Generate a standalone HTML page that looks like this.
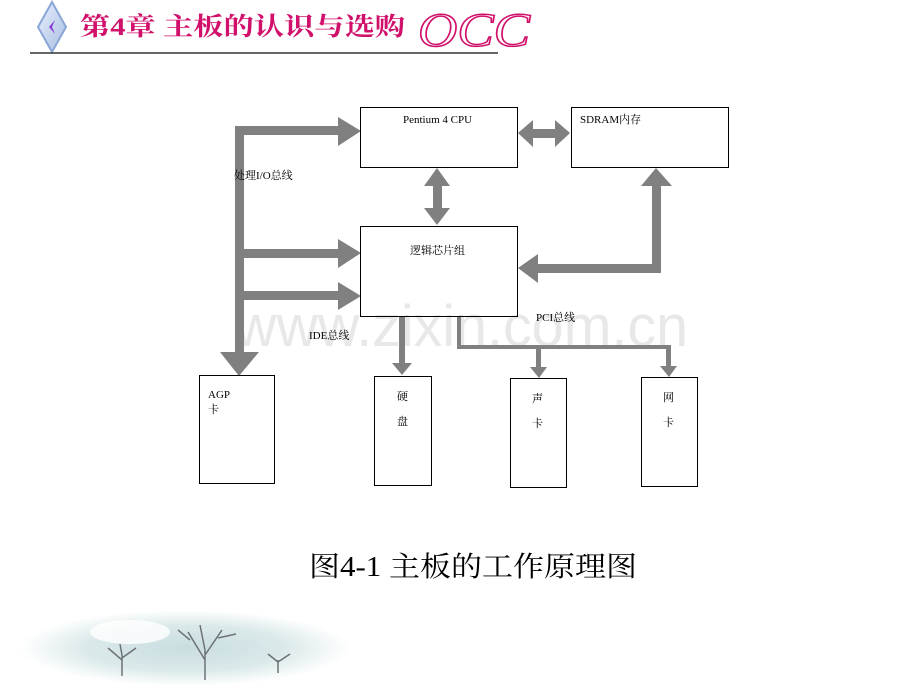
<!DOCTYPE html>
<html><head><meta charset="utf-8">
<style>
html,body{margin:0;padding:0;background:#fff;}
body{width:920px;height:690px;overflow:hidden;position:relative;font-family:"Liberation Serif","Noto Serif CJK SC",serif;}
</style></head><body>
<svg width="920" height="690" viewBox="0 0 920 690" xmlns="http://www.w3.org/2000/svg">
<defs>
<radialGradient id="fog" cx="0.5" cy="0.5" r="0.5">
<stop offset="0" stop-color="#c9dde0"/>
<stop offset="0.6" stop-color="#dbe9ea"/>
<stop offset="1" stop-color="#ffffff"/>
</radialGradient>
<linearGradient id="dia" x1="0" y1="0" x2="1" y2="1">
<stop offset="0" stop-color="#e8f0ff"/><stop offset="1" stop-color="#a9bde0"/>
</linearGradient>
</defs>
<!-- header -->
<polygon points="52,2 66,27 52,52 38,27" fill="url(#dia)" stroke="#8aa6d6" stroke-width="2"/>
<polygon points="55,20 49,27 55,34 52,27" fill="#8a3cd8"/>
<text x="80" y="35" font-family="'Liberation Serif','Noto Serif CJK SC',serif" font-size="25" font-weight="bold" fill="#d0106a" textLength="325" lengthAdjust="spacingAndGlyphs">第4章 主板的认识与选购</text>
<text x="418" y="46" font-family="'Liberation Serif',serif" font-style="italic" font-size="48" fill="none" stroke="#d0106a" stroke-width="1.5" textLength="112" lengthAdjust="spacingAndGlyphs">OCC</text>
<line x1="30" y1="53" x2="498" y2="53" stroke="#333" stroke-width="1.5"/>
<!-- watermark -->
<text x="235" y="346" font-family="'Liberation Sans',sans-serif" font-size="58" fill="#e8e8e8" textLength="453" lengthAdjust="spacingAndGlyphs">www.zixin.com.cn</text>
<g fill="#808080" stroke="none">
<rect x="235" y="126" width="9" height="230"/>
<polygon points="220,352 259,352 239,376"/>
<rect x="240" y="126" width="100" height="9"/>
<polygon points="338,117 338,146 361,131"/>
<rect x="240" y="249" width="100" height="9"/>
<polygon points="338,239 338,268 361,253"/>
<rect x="240" y="291" width="100" height="9"/>
<polygon points="338,282 338,310 361,296"/>
<rect x="433" y="183" width="9" height="28"/>
<polygon points="424,186 450,186 437,168"/>
<polygon points="424,208 450,208 437,225"/>
<rect x="530" y="129" width="28" height="9"/>
<polygon points="533,120 533,147 518,133"/>
<polygon points="555,120 555,147 570,133"/>
<rect x="652" y="185" width="9" height="87"/>
<polygon points="641,186 672,186 656,168"/>
<rect x="535" y="264" width="126" height="9"/>
<polygon points="538,254 538,283 518,268"/>
<rect x="399" y="316" width="6" height="48"/>
<polygon points="392,363 412,363 402,375"/>
<rect x="457" y="316" width="4" height="33"/>
<rect x="457" y="345" width="214" height="4"/>
<rect x="536" y="345" width="5" height="24"/>
<polygon points="530,367 547,367 539,378"/>
<rect x="666" y="345" width="5" height="23"/>
<polygon points="660,366 677,366 669,377"/>
</g>
<g fill="none" stroke="#000" stroke-width="1">
<rect x="360.5" y="107.5" width="157" height="60"/>
<rect x="571.5" y="107.5" width="157" height="60"/>
<rect x="360.5" y="226.5" width="157" height="90"/>
<rect x="199.5" y="375.5" width="75" height="108"/>
<rect x="374.5" y="376.5" width="57" height="109"/>
<rect x="510.5" y="378.5" width="56" height="109"/>
<rect x="641.5" y="377.5" width="56" height="109"/>
</g>
<g font-family="'Liberation Serif','Noto Serif CJK SC',serif" font-size="11" fill="#000">
<text x="403" y="123">Pentium 4 CPU</text>
<text x="580" y="123">SDRAM内存</text>
<text x="410" y="254">逻辑芯片组</text>
<text x="234" y="179">处理I/O总线</text>
<text x="309" y="339">IDE总线</text>
<text x="536" y="321">PCI总线</text>
<text x="208" y="398">AGP</text>
<text x="208" y="413">卡</text>
<text x="397" y="400">硬</text>
<text x="397" y="425">盘</text>
<text x="532" y="402">声</text>
<text x="532" y="427">卡</text>
<text x="663" y="401">网</text>
<text x="663" y="426">卡</text>
</g>
<text x="309" y="576" font-family="'Liberation Serif','Noto Serif CJK SC',serif" font-size="28" fill="#000" textLength="328" lengthAdjust="spacingAndGlyphs">图4-1  主板的工作原理图</text>
<ellipse cx="185" cy="648" rx="165" ry="38" fill="url(#fog)"/>
<ellipse cx="130" cy="632" rx="40" ry="12" fill="#fff" opacity="0.8"/>
<g stroke="#6d7276" fill="none" stroke-width="1.5">
<path d="M205 680 L205 650 M205 660 L188 632 M205 655 L222 630 M205 650 L200 625 M190 640 L178 630 M218 638 L236 634"/>
<path d="M122 676 L122 655 M122 660 L108 648 M122 658 L136 648 M122 655 L120 644"/>
<path d="M278 673 L278 660 M278 662 L268 654 M278 662 L290 654"/>
</g>
</svg>
</body></html>
